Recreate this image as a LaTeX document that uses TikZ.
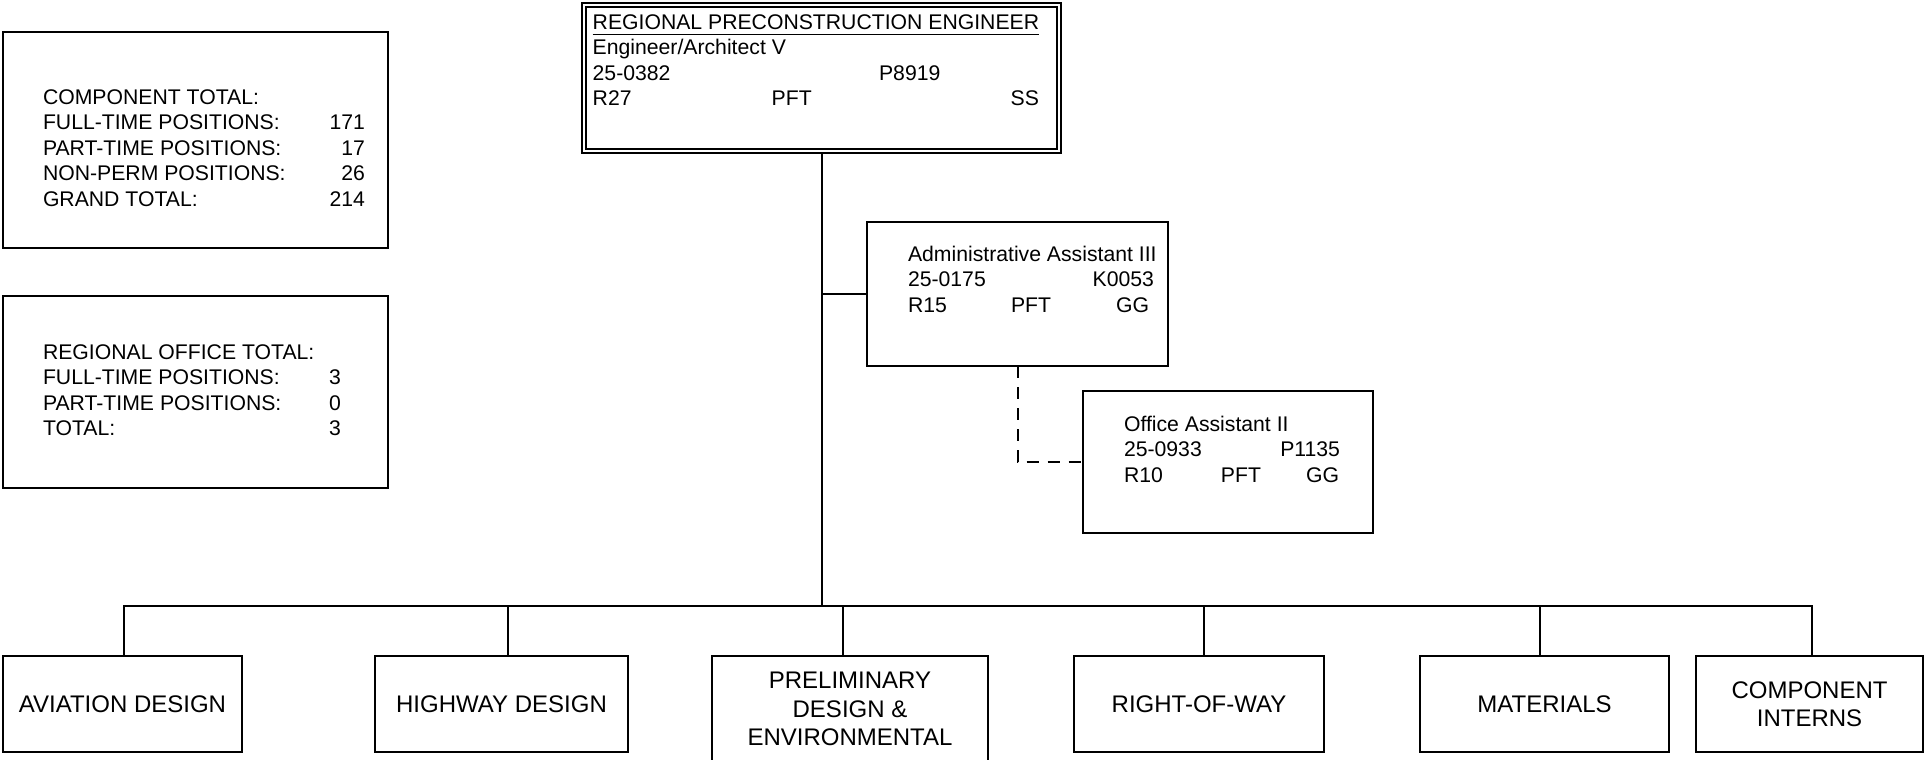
\documentclass[tikz,border=0pt]{standalone}
\usepackage{fontspec}
\setmainfont{Liberation Sans}
\usetikzlibrary{positioning}
\tikzset{%
   box/.style={draw, line width=1pt, inner sep=0pt, outer sep=0pt},
   txt/.style={inner sep=0pt, outer sep=0pt, font=\fontsize{10.6}{12.75}\selectfont},
   unit/.style={box, align=center, minimum height=48pt, font=\fontsize{12}{14.2}\selectfont},
   link/.style={line width=1pt},
}
\newcommand{\undl}[1]{\setbox0\hbox{#1}\rlap{\rule[-3pt]{\wd0}{0.5pt}}\box0}

\begin{document}
\begin{tikzpicture}[x=0.5pt, y=-0.5pt]
      \useasboundingbox (0,0) rectangle (1927,760);
      % head of the component
      \node[box, double, double distance=1pt, outer sep=1.5pt, minimum width=237.5pt, minimum height=73pt] (eng) at (821.5,78) {};
      \node[txt, below right=4.7pt and 5.85pt of eng.north west] (engl) {\begin{tabular}{@{}l@{}}
         \undl{REGIONAL PRECONSTRUCTION ENGINEER}\\
         Engineer/Architect V\\
         \makebox[143.2pt][l]{25-0382}P8919\\
         \makebox[89.5pt][l]{R27}\makebox[133.6pt]{PFT\hfill SS}
      \end{tabular}};
      % totals
      \node[box, minimum width=192.5pt, minimum height=108pt] (tot) at (195.5,140) {};
      \node[txt, below right=27.1pt and 20pt of tot.north west] (totl) {\begin{tabular}{@{}l@{}}
         COMPONENT TOTAL:\\
         \makebox[161pt]{FULL-TIME POSITIONS:\hfill 171}\\
         \makebox[161pt]{PART-TIME POSITIONS:\hfill 17}\\
         \makebox[161pt]{NON-PERM POSITIONS:\hfill 26}\\
         \makebox[161pt]{GRAND TOTAL:\hfill 214}
      \end{tabular}};
      \node[box, minimum width=192.5pt, minimum height=96pt] (reg) at (195.5,392) {};
      \node[txt, below right=22.6pt and 20pt of reg.north west] (regl) {\begin{tabular}{@{}l@{}}
         REGIONAL OFFICE TOTAL:\\
         \makebox[143pt][l]{FULL-TIME POSITIONS:}3\\
         \makebox[143pt][l]{PART-TIME POSITIONS:}0\\
         \makebox[143pt][l]{TOTAL:}3
      \end{tabular}};
      % staff
      \node[box, minimum width=150.5pt, minimum height=72pt] (adm) at (1017.5,294) {};
      \node[txt, below right=10.6pt and 20.5pt of adm.north west] (adml) {\begin{tabular}{@{}l@{}}
         Administrative Assistant III\\
         \makebox[123pt]{25-0175\hfill K0053}\\
         \makebox[51.5pt][l]{R15}\makebox[69pt]{PFT\hfill GG}
      \end{tabular}};
      \node[box, minimum width=145pt, minimum height=71pt] (off) at (1228,462) {};
      \node[txt, below right=11.1pt and 20.5pt of off.north west] (offl) {\begin{tabular}{@{}l@{}}
         Office Assistant II\\
         \makebox[108pt]{25-0933\hfill P1135}\\
         \makebox[48.5pt][l]{R10}\makebox[59pt]{PFT\hfill GG}
      \end{tabular}};
      % sections
      \node[unit, minimum width=119.5pt] (avi) at (122.5,704) {AVIATION DESIGN};
      \node[unit, minimum width=126.5pt] (hwy) at (501.5,704) {HIGHWAY DESIGN};
      \node[unit, minimum width=138pt, minimum height=53pt] (pre) at (850,709) {PRELIMINARY\\DESIGN \&\\ENVIRONMENTAL};
      \node[unit, minimum width=125pt] (row) at (1199,704) {RIGHT-OF-WAY};
      \node[unit, minimum width=124.5pt] (mat) at (1544.5,704) {MATERIALS};
      \node[unit, minimum width=113.5pt] (int) at (1809.5,704) {COMPONENT\\INTERNS};
      % lines
      \coordinate (bus) at (821.5,606);
      \draw[link] (eng.south) -- (bus);
      \draw[link] (adm.west) -- (adm.west -| bus);
      \draw[link, dash pattern=on 6pt off 4.5pt] (adm.south) |- (off.west);
      \draw[link] ([xshift=0.75pt]avi.north) |- (bus);
      \draw[link] ([xshift=3.25pt]hwy.north) |- (bus);
      \draw[link] ([xshift=-3.5pt]pre.north) |- (bus);
      \draw[link] ([xshift=2.5pt]row.north) |- (bus);
      \draw[link] ([xshift=-2.25pt]mat.north) |- (bus);
      \draw[link] ([xshift=1.25pt]int.north) |- (bus);
   \end{tikzpicture}
\end{document}
